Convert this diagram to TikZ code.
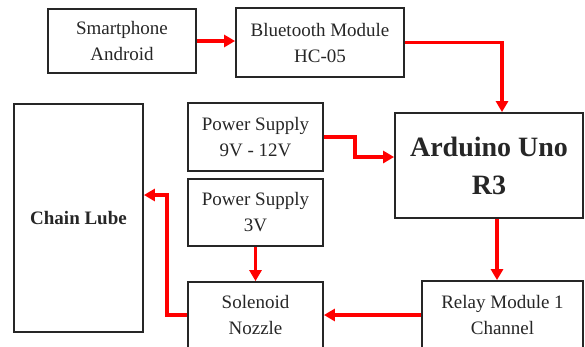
\documentclass[tikz,border=0pt]{standalone}
\usepackage{fontspec}
\setmainfont{Liberation Serif}
\usepackage{tikz}
\usetikzlibrary{
    arrows.meta,
    positioning
}

\begin{document}
\begin{tikzpicture}[x=1pt, y=-1pt,
    block/.style={draw=black!85, line width=1.8pt, inner sep=0pt, align=center,
                  text=black!85, font=\fontsize{19}{26}\selectfont},
    link/.style={draw=red, line width=3.5pt,
                 -{Triangle[length=11pt,width=12pt]}}
]

\useasboundingbox (0,0) rectangle (585,346);
\clip (0,0) rectangle (585,346);

% Blocks
\node[block, minimum width=148pt, minimum height=64pt] (phone) at (122,41) {Smartphone\\Android};
\node[block, minimum width=168pt, minimum height=69pt] (bt) at (320,42.5) {Bluetooth Module\\HC-05};
\node[block, minimum width=188pt, minimum height=105pt,
      font=\bfseries\fontsize{28}{38}\selectfont] (arduino) at (489,165.5) {Arduino Uno\\R3};
\node[block, minimum width=135pt, minimum height=68pt] (psmain) at (255.5,137) {Power Supply\\9V - 12V};
\node[block, minimum width=135pt, minimum height=67pt] (pssol) at (255.5,212.5) {Power Supply\\3V};
\node[block, minimum width=129pt, minimum height=228pt,
      font=\bfseries\fontsize{19}{26}\selectfont] (lube) at (78.5,218) {Chain Lube};
\node[block, minimum width=135pt, minimum height=66pt] (nozzle) at (255.5,315) {Solenoid\\Nozzle};
\node[block, minimum width=161pt, minimum height=68pt] (relay) at (502.5,315) {Relay Module 1\\Channel};

% Links
\draw[link] (phone.east) -- (phone.east -| bt.west);
\draw[link] (bt.east) -| ([xshift=13pt]arduino.north);
\draw[link] (psmain.east) -- ++(31,0) |- ([yshift=8.5pt]arduino.west);
\draw[link] ([xshift=8pt]arduino.south) -- ([xshift=8pt]arduino.south |- relay.north);
\draw[link] (relay.west) -- (nozzle.east);
\draw[link] (pssol.south) -- (nozzle.north);
\draw[link] (nozzle.west) -- ++(-20,0) |- ([yshift=23pt]lube.east);

\end{tikzpicture}
\end{document}
